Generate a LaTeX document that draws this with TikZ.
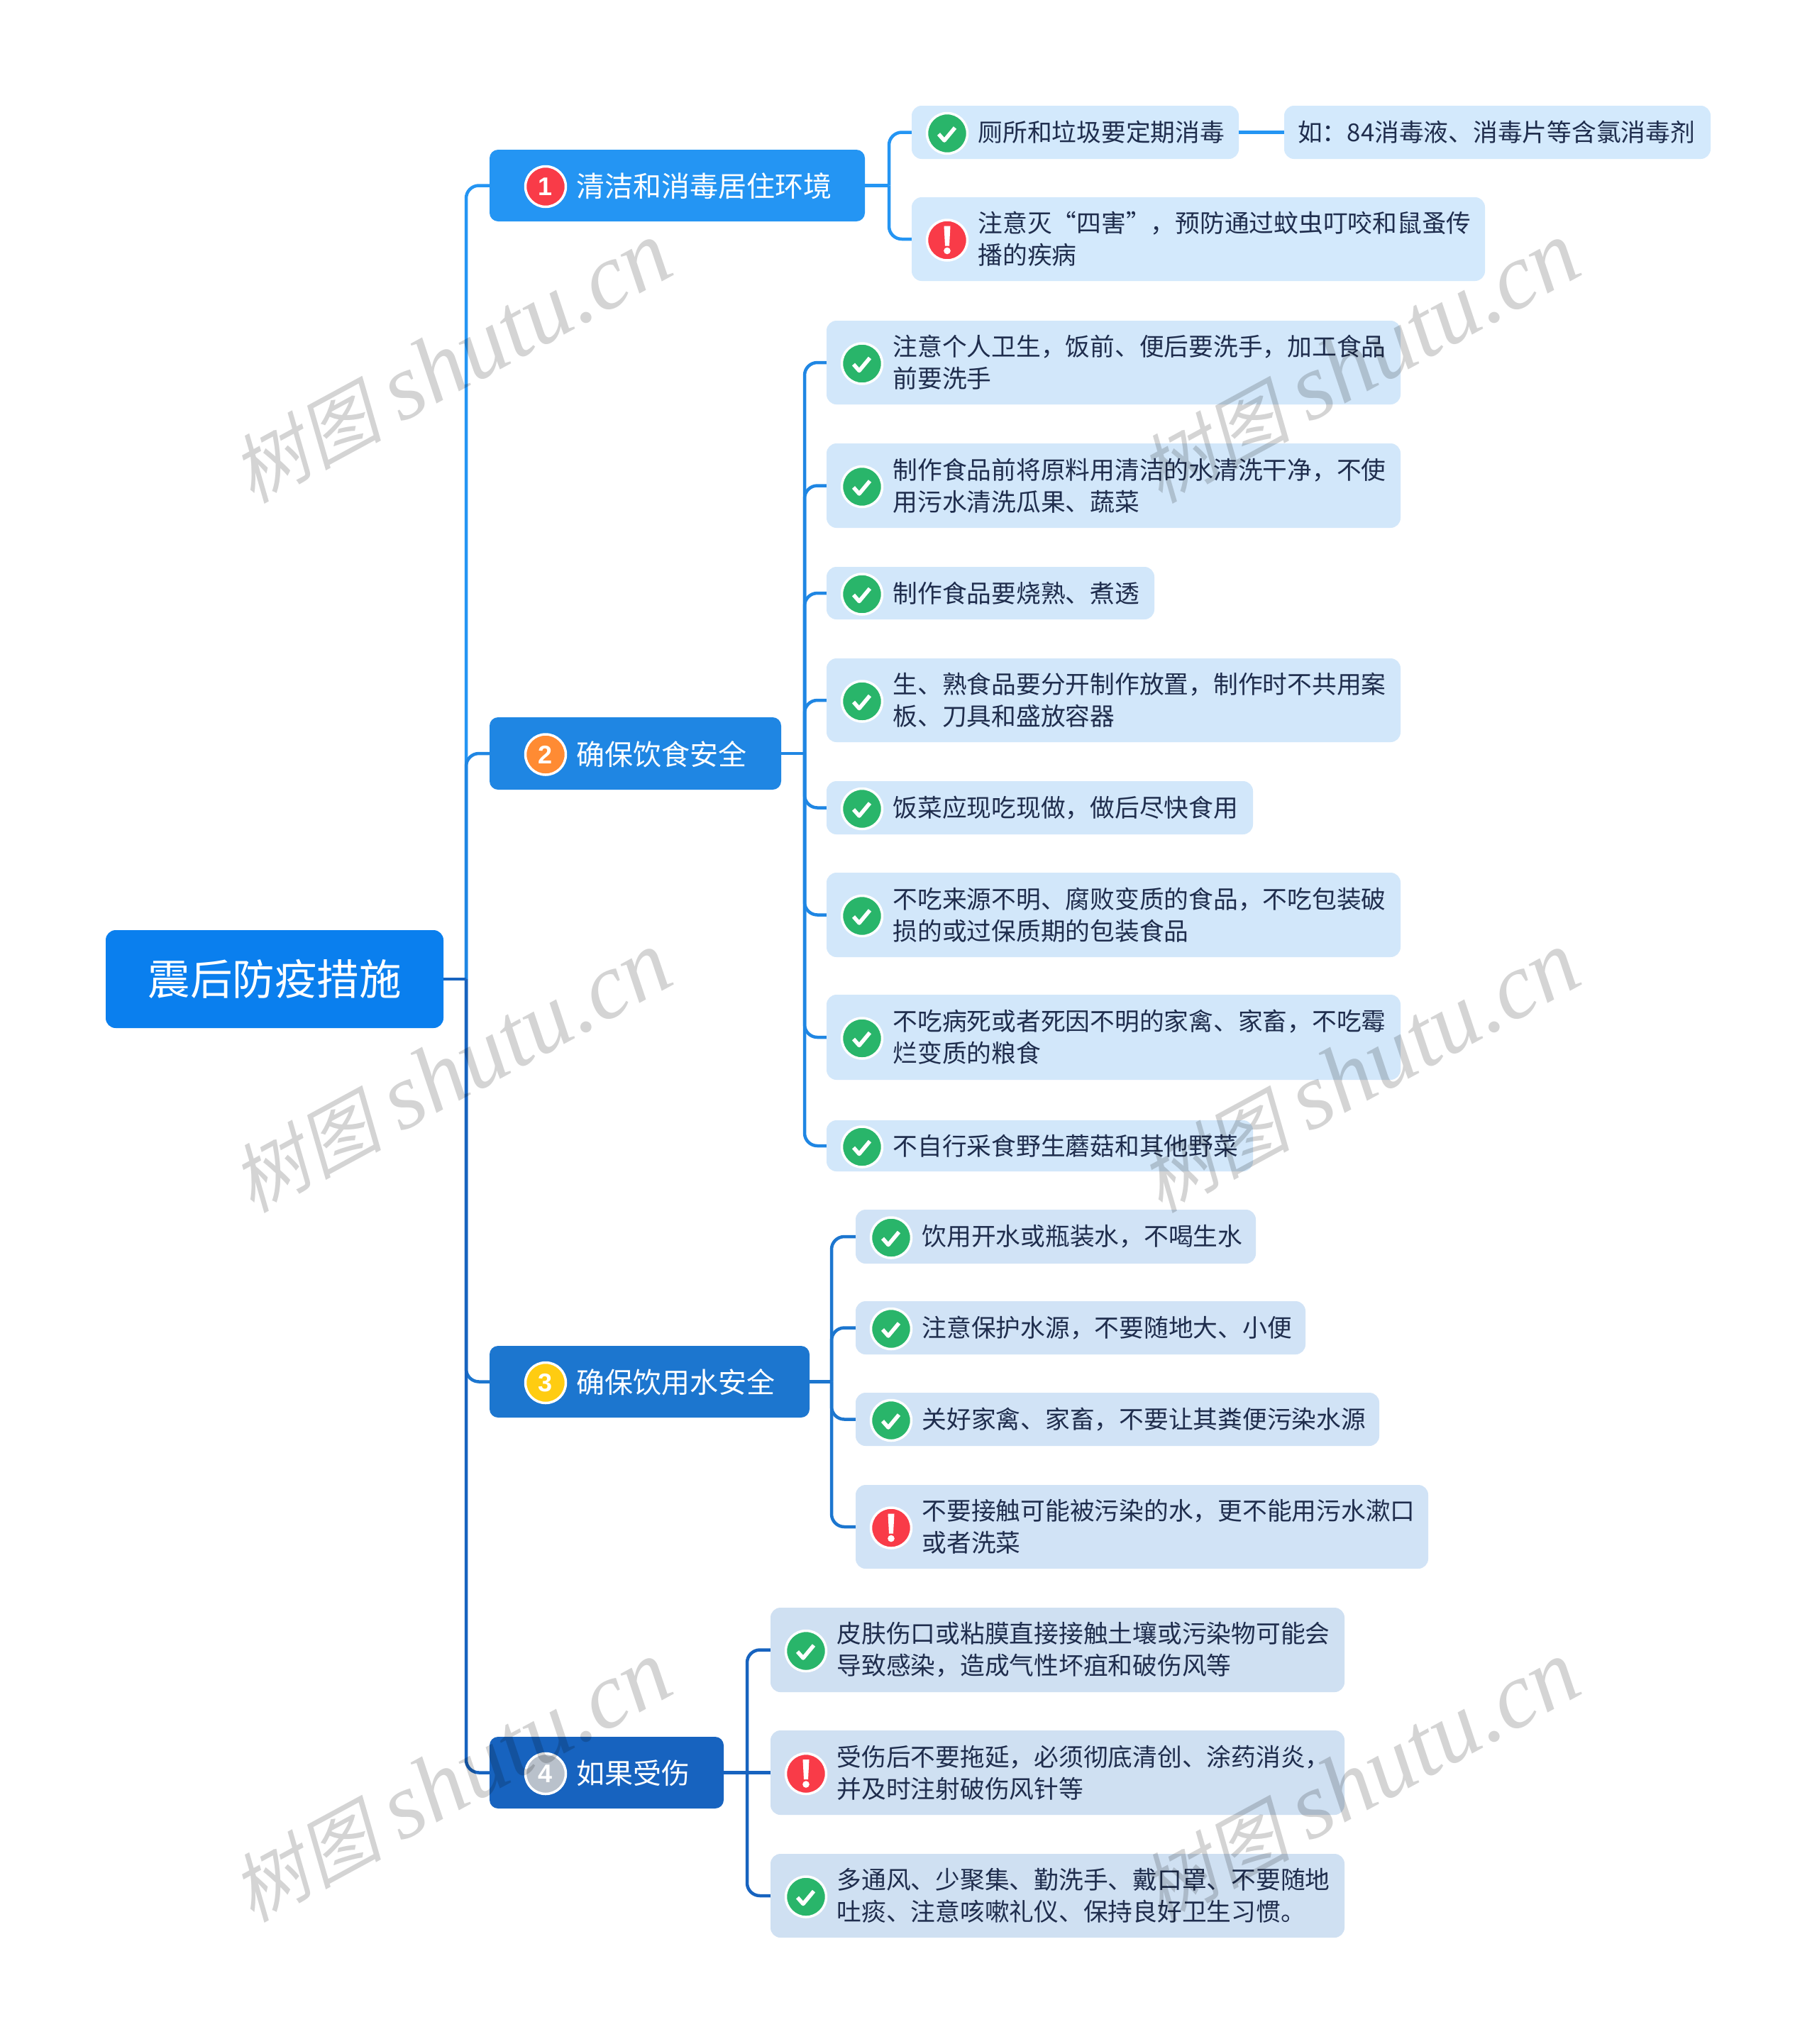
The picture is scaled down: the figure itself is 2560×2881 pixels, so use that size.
\documentclass[tikz,border=0pt]{standalone}
\usepackage{fontspec}
\setmainfont{Noto Sans CJK SC}
\newfontfamily\wmcjk[FakeSlant=0.22]{Noto Sans CJK SC}
\newfontfamily\wmlat{Liberation Serif}
\newfontfamily\numfont{Liberation Sans}
\definecolor{rootc}{HTML}{0A7FEE}
\definecolor{ca}{HTML}{2495F3}
\definecolor{cb}{HTML}{1F86E3}
\definecolor{cc}{HTML}{1C76CF}
\definecolor{cd}{HTML}{1763BF}
\definecolor{la}{HTML}{D3E9FC}
\definecolor{lb}{HTML}{D2E7FA}
\definecolor{lc}{HTML}{D1E3F6}
\definecolor{ld}{HTML}{CFE0F2}
\definecolor{okc}{HTML}{29B56A}
\definecolor{badc}{HTML}{F93B48}
\definecolor{orc}{HTML}{FF8B33}
\definecolor{yec}{HTML}{FFCC11}
\definecolor{grc}{HTML}{B9C1CB}
\definecolor{inkc}{HTML}{1F2D4D}
\tikzset{
 boxbase/.style={rectangle,rounded corners=14,inner sep=0,draw=none},
 lbl/.style={anchor=west,align=left,inner sep=0,text=inkc,font=\fontsize{34.75}{45}\selectfont},
 brtext/.style={anchor=west,inner sep=0,text=white,font=\fontsize{40}{48}\selectfont},
 badge/.style={circle,draw=white,line width=3.5,minimum size=57,inner sep=0},
 numtxt/.style={text=white,font=\numfont\fontsize{36}{38}\bfseries\selectfont},
 conn/.style={line width=4.5,rounded corners=18},
 stem/.style={line width=4.5},
 wm/.style={rotate=28.5,inner sep=0,text=black,opacity=.17,text opacity=.17}
}
% name,x1,y1,x2,y2,fill,icon(ok/bad),text
\newcommand{\leafnode}[8]{%
 \node[boxbase,fill=#6,minimum width={#4-#2},minimum height={#5-#3}] (#1) at ({(#2+#4)/2},{(#3+#5)/2}) {};
 \node[lbl] (#1t) at ({#2+93.5},{(#3+#5)/2}) {#8};
 \node[badge,fill=\csname ic#7\endcsname] (#1i) at ({#2+50},{(#3+#5)/2+1.5}) {};
 \csname draw#7\endcsname{#1i}%
}
\newcommand{\icok}{okc}
\newcommand{\icbad}{badc}
\newcommand{\drawok}[1]{\draw[white,line width=5.5,line join=round] ([shift={(-12,1)}]#1.center) -- ++(8,9) -- ++(15,-18);}
\newcommand{\drawbad}[1]{%
 \fill[white] ([shift={(-4.5,-20)}]#1.center) -- ++(9,0) -- ++(-1.5,28) -- ++(-6,0) -- cycle;
 \fill[white] ([shift={(0,15)}]#1.center) circle (4.8);}
% name,x1,y1,x2,y2,fill,badgecolor,num,text
\newcommand{\branchnode}[9]{%
 \node[boxbase,rounded corners=12,fill=#6,minimum width={#4-#2},minimum height={#5-#3}] (#1) at ({(#2+#4)/2},{(#3+#5)/2}) {};
 \node[brtext] (#1t) at (812,{(#3+#5)/2+1}) {#9};
 \node[badge,fill=#7,numtxt] (#1i) at (769,{(#3+#5)/2+1.5}) {#8};
}
\newcommand{\wmark}[2]{\node[wm] (w#1#2) at (#1,#2) {{\wmcjk\fontsize{106}{120}\selectfont 树图}\hspace{27pt}{\wmlat\itshape\fontsize{132}{120}\selectfont shutu.cn}};}
\begin{document}
\begin{tikzpicture}[x=1pt,y=-1pt]
\useasboundingbox (0,0) rectangle (2560,2881);
\fill[white] (0,0) rectangle (2560,2881);
\coordinate (tk) at (657,0);
\coordinate (ba) at (1253,0);
\coordinate (bb) at (1134,0);
\coordinate (bc) at (1172,0);
\coordinate (bd) at (1053,0);
% nodes
\node[boxbase,fill=rootc,minimum width=476,minimum height=138] (root) at (387,1380) {};
\node[inner sep=0,text=white,font=\fontsize{59.5}{64}\selectfont] (roott) at (387,1380) {震后防疫措施};
\branchnode{na}{690}{211}{1219}{312}{ca}{badc}{1}{清洁和消毒居住环境}
\branchnode{nb}{690}{1011}{1101}{1113}{cb}{orc}{2}{确保饮食安全}
\branchnode{nc}{690}{1897}{1141}{1998}{cc}{yec}{3}{确保饮用水安全}
\branchnode{nd}{690}{2448}{1020}{2549}{cd}{grc}{4}{如果受伤}
% connectors behind leaves
\foreach \n/\c in {na/ca,nb/cb,nc/cc,nd/cd}{
 \draw[conn,draw=\c] (root.east -| tk) -- (\n.west -| tk) -- (\n.west);
}
\draw[stem,draw=cd] (root.east) -- (root.east -| tk);
\node[boxbase,fill=la,minimum width=601,minimum height=75] (xa) at (2110.5,186.5) {};
\node[lbl] (xat) at (1829,186.5) {如：84消毒液、消毒片等含氯消毒剂};
\leafnode{a1}{1285}{149}{1746}{224}{la}{ok}{厕所和垃圾要定期消毒}
\leafnode{a2}{1285}{278}{2093}{396}{la}{bad}{注意灭“四害”，预防通过蚊虫叮咬和鼠蚤传\\播的疾病}
\leafnode{b1}{1165}{452}{1974}{570}{lb}{ok}{注意个人卫生，饭前、便后要洗手，加工食品\\前要洗手}
\leafnode{b2}{1165}{625}{1974}{744}{lb}{ok}{制作食品前将原料用清洁的水清洗干净，不使\\用污水清洗瓜果、蔬菜}
\leafnode{b3}{1165}{799}{1627}{873}{lb}{ok}{制作食品要烧熟、煮透}
\leafnode{b4}{1165}{928}{1974}{1046}{lb}{ok}{生、熟食品要分开制作放置，制作时不共用案\\板、刀具和盛放容器}
\leafnode{b5}{1165}{1101}{1766}{1176}{lb}{ok}{饭菜应现吃现做，做后尽快食用}
\leafnode{b6}{1165}{1230}{1974}{1349}{lb}{ok}{不吃来源不明、腐败变质的食品，不吃包装破\\损的或过保质期的包装食品}
\leafnode{b7}{1165}{1402}{1974}{1522}{lb}{ok}{不吃病死或者死因不明的家禽、家畜，不吃霉\\烂变质的粮食}
\leafnode{b8}{1165}{1579}{1766}{1651}{lb}{ok}{不自行采食野生蘑菇和其他野菜}
\leafnode{c1}{1206}{1705}{1770}{1781}{lc}{ok}{饮用开水或瓶装水，不喝生水}
\leafnode{c2}{1206}{1834}{1840}{1909}{lc}{ok}{注意保护水源，不要随地大、小便}
\leafnode{c3}{1206}{1963}{1944}{2038}{lc}{ok}{关好家禽、家畜，不要让其粪便污染水源}
\leafnode{c4}{1206}{2093}{2013}{2211}{lc}{bad}{不要接触可能被污染的水，更不能用污水漱口\\或者洗菜}
\leafnode{d1}{1086}{2266}{1895}{2385}{ld}{ok}{皮肤伤口或粘膜直接接触土壤或污染物可能会\\导致感染，造成气性坏疽和破伤风等}
\leafnode{d2}{1086}{2439}{1895}{2558}{ld}{bad}{受伤后不要拖延，必须彻底清创、涂药消炎，\\并及时注射破伤风针等}
\leafnode{d3}{1086}{2613}{1895}{2731}{ld}{ok}{多通风、少聚集、勤洗手、戴口罩、不要随地\\吐痰、注意咳嗽礼仪、保持良好卫生习惯。}
% child connectors
\draw[stem,draw=ca] (na.east) -- (na.east -| ba);
\foreach \k in {a1,a2}{\draw[conn,draw=ca] (na.east -| ba) -- (\k.west -| ba) -- (\k.west);}
\draw[stem,draw=cb] (nb.east) -- (nb.east -| bb);
\foreach \k in {b1,b2,b3,b4,b5,b6,b7,b8}{\draw[conn,draw=cb] (nb.east -| bb) -- (\k.west -| bb) -- (\k.west);}
\draw[stem,draw=cc] (nc.east) -- (nc.east -| bc);
\foreach \k in {c1,c2,c3,c4}{\draw[conn,draw=cc] (nc.east -| bc) -- (\k.west -| bc) -- (\k.west);}
\foreach \k in {d1,d3}{\draw[conn,draw=cd] (nd.east -| bd) -- (\k.west -| bd) -- (\k.west);}
\draw[stem,draw=cd] (nd.east) -- (d2.west);
\draw[stem,draw=ca] (a1.east) -- (xa.west);
% watermarks
\wmark{636}{511}\wmark{1916}{511}
\wmark{636}{1511}\wmark{1916}{1511}
\wmark{636}{2511}\wmark{1916}{2511}
\end{tikzpicture}
\end{document}
